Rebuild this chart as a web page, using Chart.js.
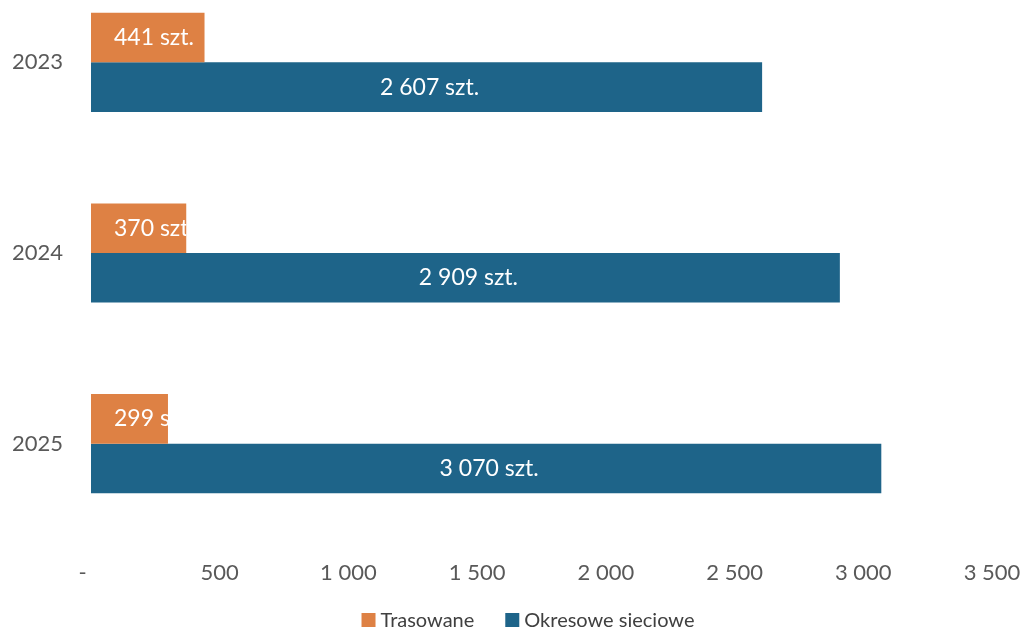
<!DOCTYPE html>
<html>
<head>
<meta charset="utf-8">
<script src="https://cdn.jsdelivr.net/npm/chart.js@4.4.1/dist/chart.umd.min.js"></script>
<style>
  html, body { margin: 0; padding: 0; background: #fff; overflow: hidden; width: 1026px; height: 633px; }
  #wrap { position: absolute; left: 0; top: -40px; width: 1026px; height: 680px; }
</style>
</head>
<body>
<div id="wrap"><canvas id="c"></canvas></div>
<script>
// Data
const years = ['2023', '2024', '2025'];
const seriesNames = ['Trasowane', 'Okresowe sieciowe'];
const trasowane = [441, 370, 299];
const okresowe = [2607, 2909, 3070];
const xTickValues = [0, 500, 1000, 1500, 2000, 2500, 3000, 3500];
const xTickLabels = ['-   ', '500', '1 000', '1 500', '2 000', '2 500', '3 000', '3 500'];
const unit = 'szt.';

const orange = '#DE8144';
const blue = '#1E6489';
const FONT = 'Lato, "Open Sans", sans-serif';

// Polish-style thousands grouping with a space
function fmt(v) {
  return String(v).replace(/\B(?=(\d{3})+(?!\d))/g, ' ');
}

// Value labels inside the bars: orange ones start near the base and are clipped to the bar,
// blue ones are centred.
const barLabels = {
  id: 'barLabels',
  afterDatasetsDraw(chart) {
    const ctx = chart.ctx;
    chart.data.datasets.forEach((ds, di) => {
      const meta = chart.getDatasetMeta(di);
      meta.data.forEach((bar, i) => {
        const p = bar.getProps(['x', 'y', 'base', 'height'], true);
        const text = fmt(ds.data[i]) + ' ' + unit;
        ctx.save();
        ctx.font = '23px ' + FONT;
        ctx.fillStyle = '#ffffff';
        ctx.textBaseline = 'middle';
        if (di === 0) {
          ctx.beginPath();
          ctx.rect(p.base, p.y - p.height / 2, p.x - p.base, p.height);
          ctx.clip();
          ctx.textAlign = 'left';
          ctx.fillText(text, p.base + 23, p.y);
        } else {
          ctx.textAlign = 'center';
          ctx.fillText(text, (p.base + p.x) / 2 + 3, p.y);
        }
        ctx.restore();
      });
    });
  }
};

// Compact legend row under the axis: small square, tight gap, then the series name.
const bottomLegend = {
  id: 'bottomLegend',
  afterDraw(chart) {
    const ctx = chart.ctx;
    const box = 14, boxGap = 5, itemGap = 31;
    const cy = chart.height - 20;
    ctx.save();
    ctx.font = '20px ' + FONT;
    ctx.textBaseline = 'middle';
    ctx.textAlign = 'left';
    const items = chart.data.datasets.map(ds => ({
      text: ds.label, color: ds.backgroundColor, w: ctx.measureText(ds.label).width
    }));
    const total = items.reduce((s, it) => s + box + boxGap + it.w, 0) + itemGap * (items.length - 1);
    let x = 528 - total / 2;
    items.forEach(it => {
      ctx.fillStyle = it.color;
      ctx.fillRect(x, cy - box / 2, box, box);
      x += box + boxGap;
      ctx.fillStyle = '#404040';
      ctx.fillText(it.text, x, cy + 1);
      x += it.w + itemGap;
    });
    ctx.restore();
  }
};

new Chart(document.getElementById('c'), {
  type: 'bar',
  data: {
    labels: years,
    datasets: [
      { label: seriesNames[0], data: trasowane, backgroundColor: orange, borderWidth: 0 },
      { label: seriesNames[1], data: okresowe, backgroundColor: blue, borderWidth: 0 }
    ]
  },
  options: {
    indexAxis: 'y',
    responsive: true,
    maintainAspectRatio: false,
    animation: false,
    categoryPercentage: 0.52,
    barPercentage: 1.0,
    layout: { padding: { top: 7, left: 0, right: 34, bottom: 40 } },
    scales: {
      x: {
        min: 0,
        max: 3500,
        afterBuildTicks(scale) {
          scale.ticks = xTickValues.map(v => ({ value: v }));
        },
        afterFit(scale) {
          scale.height = 61;
          scale.paddingLeft = 0;
          scale.paddingRight = 0;
        },
        grid: { display: false, drawTicks: false },
        border: { display: false },
        ticks: {
          padding: 21,
          color: '#595959',
          font: { family: FONT, size: 22 },
          maxRotation: 0,
          autoSkip: false,
          callback(value) {
            const idx = xTickValues.indexOf(value);
            return idx >= 0 ? xTickLabels[idx] : '';
          }
        }
      },
      y: {
        afterFit(scale) {
          scale.width = 91;
          scale.paddingTop = 0;
          scale.paddingBottom = 0;
        },
        grid: { display: false, drawTicks: false },
        border: { display: false },
        ticks: {
          padding: 28,
          color: '#595959',
          font: { family: FONT, size: 22 }
        }
      }
    },
    plugins: {
      legend: { display: false },
      tooltip: { enabled: false }
    }
  },
  plugins: [barLabels, bottomLegend]
});
</script>
</body>
</html>
